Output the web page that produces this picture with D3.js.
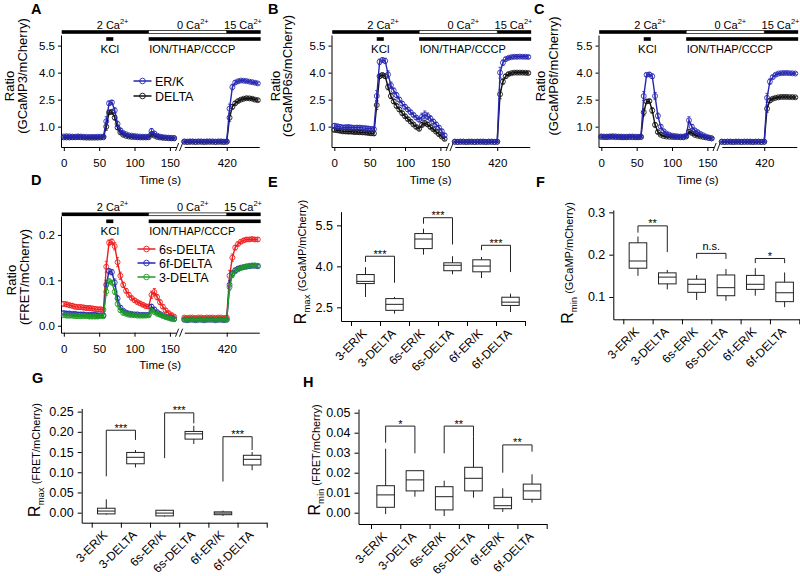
<!DOCTYPE html>
<html><head><meta charset="utf-8">
<script src="https://cdn.jsdelivr.net/npm/d3@7"></script>
<style>
body{margin:0;background:#fff}
svg{display:block}
</style></head><body>
<svg id="fig" width="800" height="576"></svg>
<script>
// ---------------- DATA ----------------
const timeSec = [0,4,8,12,16,20,24,28,32,36,40,44,48,52,56,60,64,68,72,76,80,84,88,92,96,100,104,108,112,116,120,124,128,132,136,140,144,148,152,156,
  360,364,368,372,376,380,384,388,392,396,400,404,408,412,416,420,424,428,432,436,440,444,448,452,456,460,464];
const timeTicks1 = [0,50,100,150];
const timeTicks2 = [420];

const gc3ERK = [.46,.47,.46,.45,.44,.46,.45,.44,.43,.43,.43,.43,.44,.44,.45,
  1.30,2.30,2.35,1.90,1.15,.80,.65,.58,.52,.50,.48,.46,.45,.44,.44,
  .45,.75,.62,.50,.45,.42,.40,.39,.38,.37,
  .18,.17,.18,.18,.17,.18,.18,.17,.18,.18,.18,.17,.18,.18,.17,.18,
  2.00,3.20,3.45,3.52,3.56,3.55,3.53,3.50,3.47,3.44,3.40];
const gc3ERKerr = [.05,.05,.05,.05,.05,.05,.05,.05,.05,.05,.05,.05,.05,.05,.05,
  .25,.12,.10,.15,.15,.10,.08,.06,.05,.05,.05,.05,.05,.05,.05,
  .05,.15,.10,.07,.05,.05,.05,.05,.05,.05,
  .03,.03,.03,.03,.03,.03,.03,.03,.03,.03,.03,.03,.03,.03,.03,.03,
  .25,.15,.10,.08,.07,.07,.07,.07,.07,.07,.07];
const gc3DEL = [.40,.40,.40,.41,.41,.42,.41,.40,.39,.39,.39,.39,.39,.40,.41,
  1.00,1.80,1.82,1.50,.95,.68,.55,.49,.45,.43,.42,.41,.40,.40,.40,
  .41,.58,.50,.43,.40,.38,.37,.36,.35,.35,
  .16,.15,.16,.16,.15,.16,.16,.15,.16,.16,.16,.15,.16,.16,.15,.16,
  1.50,2.10,2.30,2.42,2.50,2.55,2.58,2.57,2.55,2.50,2.47];
const gc3DELerr = [.04,.04,.04,.04,.04,.04,.04,.04,.04,.04,.04,.04,.04,.04,.04,
  .20,.10,.10,.12,.10,.08,.06,.05,.04,.04,.04,.04,.04,.04,.04,
  .04,.08,.06,.05,.04,.04,.04,.04,.04,.04,
  .03,.03,.03,.03,.03,.03,.03,.03,.03,.03,.03,.03,.03,.03,.03,.03,
  .20,.12,.10,.08,.07,.07,.07,.07,.07,.07,.07];

const gc6sERK = [1.05,1.02,.99,.96,.97,.98,.96,.94,.95,.95,.93,.92,.90,.88,.86,
  2.70,4.60,4.70,4.65,3.90,3.30,3.00,2.75,2.50,2.28,2.10,1.95,1.80,1.65,1.50,
  1.38,1.55,1.65,1.58,1.45,1.28,1.12,.95,.75,.52,
  .17,.16,.17,.17,.16,.17,.17,.16,.17,.17,.17,.16,.17,.17,.16,.17,
  4.00,4.55,4.75,4.82,4.86,4.88,4.88,4.89,4.88,4.88,4.87];
const gc6sERKerr = [.12,.12,.12,.11,.11,.11,.10,.10,.10,.10,.10,.10,.10,.10,.10,
  .30,.15,.12,.15,.20,.18,.15,.14,.13,.12,.12,.11,.11,.10,.10,
  .10,.20,.22,.18,.15,.13,.12,.10,.10,.10,
  .03,.03,.03,.03,.03,.03,.03,.03,.03,.03,.03,.03,.03,.03,.03,.03,
  .30,.15,.10,.08,.08,.08,.08,.08,.08,.08,.08];
const gc6sDEL = [.82,.80,.77,.74,.73,.72,.72,.70,.70,.69,.68,.67,.65,.63,.62,
  2.20,3.80,3.87,3.80,3.20,2.70,2.40,2.15,1.95,1.75,1.58,1.42,1.28,1.12,.98,
  .88,1.10,1.20,1.12,.98,.85,.72,.58,.45,.32,
  .16,.15,.16,.16,.15,.16,.16,.15,.16,.16,.16,.15,.16,.16,.15,.16,
  2.80,3.50,3.80,3.92,3.97,4.00,4.00,4.00,4.00,3.99,3.98];
const gc6sDELerr = [.10,.10,.10,.10,.10,.10,.10,.10,.10,.10,.10,.10,.10,.10,.10,
  .25,.12,.10,.12,.15,.14,.12,.11,.10,.10,.09,.09,.09,.08,.08,
  .08,.12,.12,.10,.09,.08,.08,.08,.07,.07,
  .03,.03,.03,.03,.03,.03,.03,.03,.03,.03,.03,.03,.03,.03,.03,.03,
  .25,.15,.10,.08,.07,.07,.07,.07,.07,.07,.07];

const gc6fERK = [.46,.45,.45,.46,.47,.46,.45,.45,.44,.44,.45,.45,.44,.44,.45,
  2.70,3.88,3.90,3.80,2.70,1.60,1.00,.75,.62,.55,.50,.48,.46,.45,.45,
  .50,1.35,1.00,.80,.70,.60,.52,.45,.40,.35,
  .17,.16,.17,.17,.16,.17,.17,.16,.17,.17,.17,.16,.17,.17,.16,.17,
  2.60,3.50,3.75,3.88,3.95,3.97,3.98,3.98,3.97,3.96,3.95];
const gc6fERKerr = [.05,.05,.05,.05,.05,.05,.05,.05,.05,.05,.05,.05,.05,.05,.05,
  .25,.10,.10,.12,.20,.15,.10,.07,.06,.05,.05,.05,.05,.05,.05,
  .05,.20,.12,.08,.07,.06,.06,.05,.05,.05,
  .03,.03,.03,.03,.03,.03,.03,.03,.03,.03,.03,.03,.03,.03,.03,.03,
  .25,.15,.10,.08,.07,.07,.07,.07,.07,.07,.07];
const gc6fDEL = [.43,.42,.42,.43,.43,.42,.42,.41,.41,.41,.42,.42,.41,.41,.42,
  1.80,2.40,2.42,1.90,1.10,.70,.55,.48,.45,.44,.43,.42,.42,.41,.41,
  .45,.72,.65,.55,.50,.46,.43,.40,.37,.35,
  .16,.15,.16,.16,.15,.16,.16,.15,.16,.16,.16,.15,.16,.16,.15,.16,
  2.00,2.45,2.55,2.60,2.63,2.65,2.65,2.65,2.64,2.64,2.63];
const gc6fDELerr = [.04,.04,.04,.04,.04,.04,.04,.04,.04,.04,.04,.04,.04,.04,.04,
  .20,.10,.10,.15,.12,.08,.05,.04,.04,.04,.04,.04,.04,.04,.04,
  .04,.10,.07,.05,.04,.04,.04,.04,.04,.04,
  .03,.03,.03,.03,.03,.03,.03,.03,.03,.03,.03,.03,.03,.03,.03,.03,
  .20,.10,.08,.06,.06,.06,.06,.06,.06,.06,.06];

const fret6s = [.048,.047,.045,.044,.042,.041,.041,.040,.039,.039,.038,.037,.036,.036,.035,
  .130,.183,.185,.175,.140,.110,.090,.077,.068,.061,.056,.052,.049,.046,.043,
  .042,.068,.074,.063,.052,.042,.034,.028,.024,.020,
  .018,.017,.018,.018,.017,.018,.018,.017,.018,.018,.018,.017,.018,.018,.017,.018,
  .110,.150,.172,.180,.185,.188,.190,.190,.191,.190,.190];
const fret6sErr = [.005,.005,.005,.005,.005,.005,.005,.005,.005,.005,.005,.005,.005,.005,.005,
  .012,.006,.006,.008,.010,.008,.006,.005,.005,.004,.004,.004,.004,.004,.004,
  .004,.008,.008,.006,.005,.004,.004,.004,.003,.003,
  .003,.003,.003,.003,.003,.003,.003,.003,.003,.003,.003,.003,.003,.003,.003,.003,
  .012,.008,.005,.004,.004,.004,.004,.004,.004,.004,.004];
const fret6f = [.028,.027,.027,.026,.026,.025,.025,.025,.024,.024,.024,.024,.023,.023,.023,
  .090,.120,.118,.095,.060,.040,.033,.029,.027,.026,.025,.025,.024,.024,.024,
  .024,.042,.036,.030,.026,.023,.020,.018,.016,.015,
  .013,.012,.013,.013,.012,.013,.013,.012,.013,.013,.013,.012,.013,.013,.012,.013,
  .090,.115,.122,.126,.128,.129,.130,.131,.132,.132,.131];
const fret6fErr = [.004,.004,.004,.004,.004,.004,.004,.004,.004,.004,.004,.004,.004,.004,.004,
  .010,.006,.006,.008,.006,.004,.003,.003,.003,.003,.003,.003,.003,.003,.003,
  .003,.005,.004,.003,.003,.003,.003,.003,.003,.003,
  .003,.003,.003,.003,.003,.003,.003,.003,.003,.003,.003,.003,.003,.003,.003,.003,
  .010,.006,.005,.004,.004,.004,.004,.004,.004,.004,.004];
const fret3 = [.023,.022,.022,.022,.021,.021,.021,.021,.021,.020,.020,.020,.020,.021,.021,
  .075,.098,.095,.075,.048,.034,.028,.026,.024,.023,.023,.022,.022,.022,.022,
  .023,.033,.030,.026,.024,.021,.019,.017,.015,.014,
  .014,.013,.014,.014,.013,.014,.014,.013,.014,.014,.014,.013,.014,.014,.013,.014,
  .085,.112,.120,.124,.127,.129,.131,.132,.133,.133,.132];
const fret3Err = [.004,.004,.004,.004,.004,.004,.004,.004,.004,.004,.004,.004,.004,.004,.004,
  .008,.005,.005,.006,.005,.004,.003,.003,.003,.003,.003,.003,.003,.003,.003,
  .003,.004,.004,.003,.003,.003,.003,.003,.003,.003,
  .003,.003,.003,.003,.003,.003,.003,.003,.003,.003,.003,.003,.003,.003,.003,.003,
  .008,.006,.005,.004,.004,.004,.004,.004,.004,.004,.004];

// stimulation protocol (times in s)
const caSolidSpans = [[-3,120],[420,468]];
const caOpenSpans = [[120,420]];
const caLabels = ["2 Ca","0 Ca","15 Ca"];
const caLabelTimes = [69,372,443];
const kclSpan = [60,70];
const ionSpan = [120,468];

// box plots: [min, q1, median, q3, max]
const boxCats = ["3-ER/K","3-DELTA","6s-ER/K","6s-DELTA","6f-ER/K","6f-DELTA"];
const rmaxGCaMP = [[2.88,3.37,3.45,3.70,3.97],[2.27,2.39,2.61,2.82,2.88],[4.43,4.65,5.00,5.20,5.38],
  [3.71,3.84,4.04,4.13,4.37],[3.57,3.80,4.01,4.24,4.34],[2.33,2.57,2.69,2.87,3.00]];
const rminGCaMP = [[.150,.168,.185,.228,.243],[.118,.131,.147,.157,.164],[.093,.111,.130,.142,.152],
  [.091,.103,.122,.152,.166],[.103,.118,.130,.151,.168],[.076,.089,.110,.135,.158]];
const rmaxFRET = [[-.005,-.003,.004,.011,.033],[.112,.121,.137,.149,.155],[-.010,-.008,-.001,.006,.007],
  [.170,.182,.195,.201,.215],[-.008,-.005,-.001,.002,.005],[.105,.118,.132,.142,.150]];
const rminFRET = [[-.0007,.0027,.0089,.0135,.032],[.008,.0109,.0164,.021,.021],[-.0017,.0014,.008,.013,.016],
  [.0075,.0109,.0172,.0227,.038],[.0004,.002,.0035,.0077,.0122],[.005,.0067,.0109,.0143,.0192]];
// significance brackets: [leftIdx, rightIdx, top, leftLegEnd, rightLegEnd, label]
const sigRmaxGCaMP = [[0,1,4.37,4.16,3.40,"***"],[2,3,5.78,5.56,4.80,"***"],[4,5,4.77,4.59,3.79,"***"]];
const sigRminGCaMP = [[0,1,.268,.252,.206,"**"],[2,3,.203,.191,.190,"n.s."],[4,5,.191,.180,.180,"*"]];
const sigRmaxFRET = [[0,1,.204,.090,.180,"***"],[2,3,.247,.135,.221,"***"],[4,5,.188,.077,.155,"***"]];
const sigRminFRET = [[0,1,.0433,.035,.0297,"*"],[2,3,.0433,.0297,.038,"**"],[4,5,.0339,.020,.0305,"**"]];

// ---------------- DRAWING ----------------
const FONT = '"Liberation Sans", Arial, Helvetica, sans-serif';
const BLUE = "#2626b2", RED = "#f01c1c", GREEN = "#1f9c24", BLACK = "#111";
const PXS = 0.707; // px per second on time axes
const svg = d3.select("#fig").attr("font-family", FONT);

function addAxis(g, axis, transform, fs) {
  const a = g.append("g").attr("transform", transform).call(axis);
  a.attr("font-family", FONT).attr("font-size", fs);
  a.selectAll("path,line").attr("stroke", "#000").attr("stroke-width", 1);
  a.selectAll("text").attr("fill", "#000");
  return a;
}

function tracePanel(p) {
  const g = svg.append("g");
  const x1 = d3.scaleLinear().domain([-4, 159]).range([p.left, p.left + 163 * PXS]);
  const x2s = p.left + 123.3;
  const x2 = d3.scaleLinear().domain([360, 466]).range([x2s, x2s + 106 * PXS]);
  const tx = t => (t < 250 ? x1(t) : x2(t));
  const y = d3.scaleLinear().domain(p.yDomain).range([p.bottom, p.top]);

  addAxis(g, d3.axisLeft(y).tickValues(p.yTicks).tickFormat(d3.format(p.fmt)).tickSize(3).tickSizeOuter(0).tickPadding(3),
    `translate(${p.left},0)`, 11.5);
  addAxis(g, d3.axisBottom(x1).tickValues(timeTicks1).tickSize(4).tickSizeOuter(0).tickPadding(8),
    `translate(0,${p.bottom})`, 11.5);
  addAxis(g, d3.axisBottom(x2).tickValues(timeTicks2).tickSize(4).tickSizeOuter(0).tickPadding(8),
    `translate(0,${p.bottom})`, 11.5);
  const bx = (x1.range()[1] + x2.range()[0]) / 2;
  [-3.2, 0.8].forEach(o => g.append("line").attr("x1", bx + o - 1.6).attr("y1", p.bottom + 4)
    .attr("x2", bx + o + 1.6).attr("y2", p.bottom - 4).attr("stroke", "#000").attr("stroke-width", 0.9));
  g.append("text").attr("x", (p.left + x2.range()[1]) / 2).attr("y", p.bottom + 36.5)
    .attr("text-anchor", "middle").attr("font-size", 11.5).text("Time (s)");

  // y labels
  p.ylab.forEach(l => {
    g.append("text").attr("transform", `translate(${l.x},${l.y}) rotate(-90)`)
      .attr("text-anchor", "middle").attr("font-size", 13).text(l.t);
  });

  // stimulus bars
  const b1 = p.barY, b2 = p.barY + 7;
  caSolidSpans.forEach(s => g.append("rect").attr("x", tx(s[0])).attr("y", b1 - 1.8)
    .attr("width", tx(s[1]) - tx(s[0])).attr("height", 3.6).attr("fill", "#000"));
  caOpenSpans.forEach(s => g.append("rect").attr("x", tx(s[0])).attr("y", b1 - 1.4)
    .attr("width", tx(s[1]) - tx(s[0])).attr("height", 2.8).attr("fill", "#fff").attr("stroke", "#000").attr("stroke-width", 0.7));
  caLabels.forEach((c, i) => {
    const t = g.append("text").attr("x", tx(caLabelTimes[i])).attr("y", b1 - 3.5)
      .attr("text-anchor", "middle").attr("font-size", 11);
    t.append("tspan").text(c);
    t.append("tspan").attr("font-size", 7.5).attr("dy", -4.5).text("2+");
  });
  g.append("rect").attr("x", tx(kclSpan[0])).attr("y", b2 - 1.8).attr("width", tx(kclSpan[1]) - tx(kclSpan[0]))
    .attr("height", 3.6).attr("fill", "#000");
  g.append("rect").attr("x", tx(ionSpan[0])).attr("y", b2 - 1.8).attr("width", tx(ionSpan[1]) - tx(ionSpan[0]))
    .attr("height", 3.6).attr("fill", "#000");
  g.append("text").attr("x", tx((kclSpan[0] + kclSpan[1]) / 2)).attr("y", b2 + 13.5)
    .attr("text-anchor", "middle").attr("font-size", 11.5).text("KCl");
  g.append("text").attr("x", tx(ionSpan[0]) + 0.5).attr("y", b2 + 13.5)
    .attr("font-size", 11).text("ION/THAP/CCCP");

  // series
  p.series.forEach(s => {
    const pts = timeSec.map((t, i) => ({ t, v: s.vals[i], e: s.errs[i] }));
    const sg = g.append("g");
    sg.selectAll("path.err").data(pts).join("path").attr("class", "err")
      .attr("d", d => {
        const xx = tx(d.t), ya = y(d.v - d.e), yb = y(d.v + d.e);
        return `M${xx},${ya}V${yb}M${xx - 1.6},${ya}h3.2M${xx - 1.6},${yb}h3.2`;
      })
      .attr("stroke", s.color).attr("stroke-width", 0.8).attr("fill", "none");
    [pts.filter(d => d.t < 250), pts.filter(d => d.t >= 250)].forEach(seg =>
      sg.append("path").datum(seg).attr("d", d3.line().x(d => tx(d.t)).y(d => y(d.v)))
        .attr("fill", "none").attr("stroke", s.color).attr("stroke-width", 1.4));
    sg.selectAll("circle").data(pts).join("circle").attr("cx", d => tx(d.t)).attr("cy", d => y(d.v))
      .attr("r", 2.5).attr("fill", "none").attr("stroke", s.color).attr("stroke-width", 0.85);
  });

  // legend
  if (p.legend) {
    p.legend.items.forEach((it, i) => {
      const ly = p.legend.y + i * p.legend.dy;
      g.append("line").attr("x1", p.legend.x).attr("x2", p.legend.x + 18).attr("y1", ly).attr("y2", ly)
        .attr("stroke", it.color).attr("stroke-width", 1.5);
      g.append("circle").attr("cx", p.legend.x + 9).attr("cy", ly).attr("r", 2.8)
        .attr("fill", "none").attr("stroke", it.color).attr("stroke-width", 0.9);
      g.append("text").attr("x", p.legend.x + 21.5).attr("y", ly + 4.5).attr("font-size", 12.5).text(it.name);
    });
  }
}

function panelLabel(t, x, y) {
  svg.append("text").attr("x", x).attr("y", y).attr("font-size", 14.5).attr("font-weight", "bold").text(t);
}

function boxPanel(p) {
  const g = svg.append("g");
  const xEnd = p.tick0 + 6 * p.step;
  const xb = d3.scaleBand().domain(boxCats).range([p.tick0, xEnd]);
  const xt = d3.scaleLinear().domain([(p.left - p.tick0) / p.step, 6]).range([p.left, xEnd]);
  const y = d3.scaleLinear().domain(p.yDomain).range([p.bottom, p.top]);
  addAxis(g, d3.axisLeft(y).tickValues(p.yTicks).tickFormat(d3.format(p.fmt)).tickSize(4).tickSizeOuter(0).tickPadding(4),
    `translate(${p.left},0)`, 12.5);
  addAxis(g, d3.axisBottom(xt).tickValues([0, 1, 2, 3, 4, 5, 6]).tickFormat("").tickSize(5).tickSizeOuter(0),
    `translate(0,${p.bottom})`, 12);
  const cx = c => xb(c) + xb.bandwidth() / 2;
  g.selectAll("text.cat").data(boxCats).join("text").attr("class", "cat")
    .attr("transform", c => `translate(${cx(c) + 2},${p.bottom + 13}) rotate(-45)`)
    .attr("text-anchor", "end").attr("font-size", 12).text(c => c);

  const bw = xb.bandwidth() * 0.6;
  const stroke = "#222";
  p.stats.forEach((s, i) => {
    const c = cx(boxCats[i]);
    const [mn, q1, md, q3, mx] = s;
    g.append("line").attr("x1", c).attr("x2", c).attr("y1", y(mn)).attr("y2", y(q1)).attr("stroke", stroke);
    g.append("line").attr("x1", c).attr("x2", c).attr("y1", y(q3)).attr("y2", y(mx)).attr("stroke", stroke);
    g.append("rect").attr("x", c - bw / 2).attr("y", y(q3)).attr("width", bw).attr("height", y(q1) - y(q3))
      .attr("fill", "none").attr("stroke", stroke);
    g.append("line").attr("x1", c - bw / 2).attr("x2", c + bw / 2).attr("y1", y(md)).attr("y2", y(md)).attr("stroke", stroke);
  });
  p.sig.forEach(s => {
    const xa = cx(boxCats[s[0]]), xz = cx(boxCats[s[1]]);
    g.append("path").attr("d", `M${xa},${y(s[3])}V${y(s[2])}H${xz}V${y(s[4])}`)
      .attr("fill", "none").attr("stroke", stroke);
    const isStar = s[5].indexOf("*") >= 0;
    g.append("text").attr("x", (xa + xz) / 2).attr("y", y(s[2]) + (isStar ? 1.5 : -3))
      .attr("text-anchor", "middle").attr("font-size", 11).text(s[5]);
  });
  const t = g.append("text").attr("transform", `translate(${p.lab.x},${p.lab.y}) rotate(-90)`).attr("text-anchor", "middle");
  t.append("tspan").attr("font-size", 16).text("R");
  t.append("tspan").attr("font-size", 9.5).attr("dy", 4).text(p.lab.sub);
  t.append("tspan").attr("font-size", 11).attr("dy", -4).text(" " + p.lab.rest);
}

const trYDomain = [-0.13, 6.09], trTicks = [1.0, 2.5, 4.0, 5.5];
tracePanel({ left: 61, top: 35, bottom: 147, yDomain: trYDomain, yTicks: trTicks, fmt: ".1f", barY: 32,
  ylab: [{ t: "Ratio", x: 14, y: 86 }, { t: "(GCaMP3/mCherry)", x: 26.5, y: 76 }],
  series: [{ vals: gc3DEL, errs: gc3DELerr, color: BLACK }, { vals: gc3ERK, errs: gc3ERKerr, color: BLUE }],
  legend: { x: 133.5, y: 81, dy: 15, items: [{ name: "ER/K", color: BLUE }, { name: "DELTA", color: BLACK }] } });
tracePanel({ left: 331.5, top: 35, bottom: 147, yDomain: trYDomain, yTicks: trTicks, fmt: ".1f", barY: 32,
  ylab: [{ t: "Ratio", x: 279.5, y: 86 }, { t: "(GCaMP6s/mCherry)", x: 292, y: 76 }],
  series: [{ vals: gc6sDEL, errs: gc6sDELerr, color: BLACK }, { vals: gc6sERK, errs: gc6sERKerr, color: BLUE }] });
tracePanel({ left: 598.5, top: 35, bottom: 147, yDomain: trYDomain, yTicks: trTicks, fmt: ".1f", barY: 32,
  ylab: [{ t: "Ratio", x: 545, y: 86 }, { t: "(GCaMP6f/mCherry)", x: 557.5, y: 76 }],
  series: [{ vals: gc6fDEL, errs: gc6fDELerr, color: BLACK }, { vals: gc6fERK, errs: gc6fERKerr, color: BLUE }] });
tracePanel({ left: 61, top: 216, bottom: 332.7, yDomain: [-0.0154, 0.2417], yTicks: [0, 0.1, 0.2], fmt: ".1f", barY: 214.3,
  ylab: [{ t: "Ratio", x: 16, y: 280 }, { t: "(FRET/mCherry)", x: 28.5, y: 277 }],
  series: [{ vals: fret6s, errs: fret6sErr, color: RED }, { vals: fret6f, errs: fret6fErr, color: BLUE },
           { vals: fret3, errs: fret3Err, color: GREEN }],
  legend: { x: 137.5, y: 249, dy: 14, items: [{ name: "6s-DELTA", color: RED }, { name: "6f-DELTA", color: BLUE },
    { name: "3-DELTA", color: GREEN }] } });

boxPanel({ left: 341, tick0: 351, step: 29, bottom: 321, top: 211.7, yDomain: [2, 6], yTicks: [2.5, 4.0, 5.5], fmt: ".1f",
  stats: rmaxGCaMP, sig: sigRmaxGCaMP, lab: { x: 305.5, y: 262, sub: "max", rest: "(GCaMP/mCherry)" } });
boxPanel({ left: 613.3, tick0: 623.3, step: 29.33, bottom: 319.3, top: 210, yDomain: [0.0473, 0.3055], yTicks: [0.1, 0.2, 0.3], fmt: ".1f",
  stats: rminGCaMP, sig: sigRminGCaMP, lab: { x: 573, y: 263, sub: "min", rest: "(GCaMP/mCherry)" } });
boxPanel({ left: 81.7, tick0: 91.7, step: 29.17, bottom: 522.7, top: 408.4, yDomain: [-0.0248, 0.258],
  yTicks: [0, 0.05, 0.10, 0.15, 0.20, 0.25], fmt: ".2f",
  stats: rmaxFRET, sig: sigRmaxFRET, lab: { x: 40, y: 460, sub: "max", rest: "(FRET/mCherry)" } });
boxPanel({ left: 358.5, tick0: 371, step: 29.28, bottom: 524, top: 409, yDomain: [-0.00565, 0.05185],
  yTicks: [0, 0.01, 0.02, 0.03, 0.04, 0.05], fmt: ".2f",
  stats: rminFRET, sig: sigRminFRET, lab: { x: 320, y: 460, sub: "min", rest: "(FRET/mCherry)" } });

panelLabel("A", 31, 13.5); panelLabel("B", 268, 13.5); panelLabel("C", 534, 13.5);
panelLabel("D", 31, 185); panelLabel("E", 268, 187); panelLabel("F", 536, 187);
panelLabel("G", 32, 383); panelLabel("H", 303, 387);
</script></body></html>
